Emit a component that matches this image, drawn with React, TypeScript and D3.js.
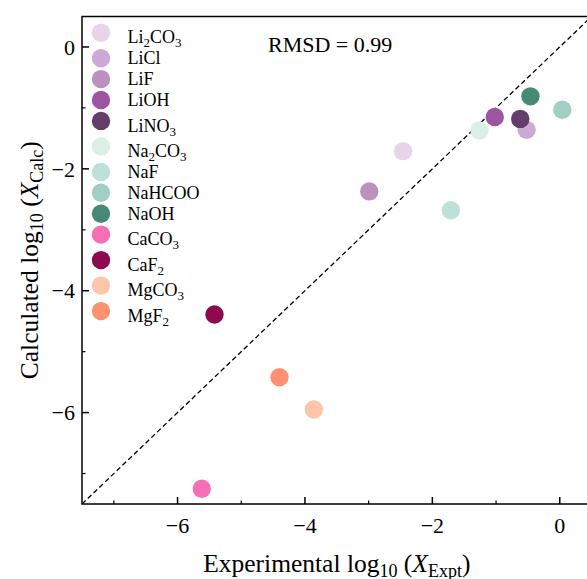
import React from "react";
import * as d3 from "d3";

const compounds = ["Li2CO3", "LiCl", "LiF", "LiOH", "LiNO3", "Na2CO3", "NaF", "NaHCOO", "NaOH", "CaCO3", "CaF2", "MgCO3", "MgF2"];
const labelParts: [string, boolean][][] = [
  [["Li", false], ["2", true], ["CO", false], ["3", true]],
  [["LiCl", false]],
  [["LiF", false]],
  [["LiOH", false]],
  [["LiNO", false], ["3", true]],
  [["Na", false], ["2", true], ["CO", false], ["3", true]],
  [["NaF", false]],
  [["NaHCOO", false]],
  [["NaOH", false]],
  [["CaCO", false], ["3", true]],
  [["CaF", false], ["2", true]],
  [["MgCO", false], ["3", true]],
  [["MgF", false], ["2", true]],
];
const expt = [-2.46, -0.52, -2.99, -1.02, -0.62, -1.26, -1.71, 0.04, -0.46, -5.62, -5.42, -3.86, -4.40];
const calc = [-1.71, -1.36, -2.37, -1.15, -1.18, -1.37, -2.68, -1.03, -0.81, -7.25, -4.39, -5.95, -5.42];
const colors = ["#e7d4e8", "#cca9d6", "#bb92bf", "#9b55a3", "#633e6a", "#dcefe6", "#bde0d8", "#a2cfc4", "#468a76", "#f46fb6", "#8e0a4e", "#fdc5aa", "#fc9272"];
const majorTicks = [-6, -4, -2, 0];
const minorTicks = [-7, -5, -3, -1];
const rmsdLabel = "RMSD = 0.99";

const W = 587, H = 579;
const FONT = "'Liberation Serif', 'Times New Roman', serif";

export default function App() {
  const left = 82, right = 591.6, top = 16.5, bottom = 504;
  const x = d3.scaleLinear().domain([-7.5, 0.5]).range([left, right]);
  const y = d3.scaleLinear().domain([-7.5, 0.5]).range([bottom, top]);
  const fmt = (v: number) => (v < 0 ? "\u2212" + Math.abs(v) : String(v));

  const hasSub = labelParts.map((p) => p.some((s) => s[1]));
  const centers: number[] = [];
  let c = 32.7;
  hasSub.forEach((s) => {
    centers.push(c);
    c += 20.9 + (s ? 4.6 : 0);
  });

  const diag = d3.line<number>().x((d) => x(d)).y((d) => y(d));

  return (
    <svg width={W} height={H} style={{ position: "absolute", left: 0, top: 0, background: "#fff" }} fontFamily={FONT}>
      <defs>
        <clipPath id="plotclip">
          <rect x={left} y={top} width={right - left} height={bottom - top} />
        </clipPath>
      </defs>
      <rect x={0} y={0} width={W} height={H} fill="#fff" />
      <path d={diag([-7.5, 0.5]) || ""} stroke="#000" strokeWidth={1.3} strokeDasharray="5,3" fill="none" clipPath="url(#plotclip)" />
      <g clipPath="url(#plotclip)">
        {compounds.map((name, i) => (
          <circle key={name} cx={x(expt[i])} cy={y(calc[i])} r={9.2} fill={colors[i]} />
        ))}
      </g>
      <rect x={left} y={top} width={right - left} height={bottom - top} fill="none" stroke="#000" strokeWidth={1.5} />
      {majorTicks.map((t) => (
        <g key={"xm" + t}>
          <line x1={x(t)} x2={x(t)} y1={bottom} y2={bottom - 7} stroke="#000" strokeWidth={1.5} />
          <text x={x(t)} y={533} textAnchor="middle" fontSize={22}>{fmt(t)}</text>
        </g>
      ))}
      {minorTicks.map((t) => (
        <line key={"xn" + t} x1={x(t)} x2={x(t)} y1={bottom} y2={bottom - 3.5} stroke="#000" strokeWidth={1.2} />
      ))}
      {majorTicks.map((t) => (
        <g key={"ym" + t}>
          <line x1={left} x2={left + 7} y1={y(t)} y2={y(t)} stroke="#000" strokeWidth={1.5} />
          <text x={75} y={y(t)} dy="0.35em" textAnchor="end" fontSize={22}>{fmt(t)}</text>
        </g>
      ))}
      {minorTicks.map((t) => (
        <line key={"yn" + t} x1={left} x2={left + 3.5} y1={y(t)} y2={y(t)} stroke="#000" strokeWidth={1.2} />
      ))}
      <text x={(left + right) / 2} y={572} textAnchor="middle" fontSize={25.5}>
        Experimental log<tspan fontSize={18} dy={5}>10</tspan>
        <tspan dy={-5}> (</tspan>
        <tspan fontStyle="italic">X</tspan>
        <tspan fontSize={18} dy={5}>Expt</tspan>
        <tspan dy={-5}>)</tspan>
      </text>
      <text transform={`translate(38,${(top + bottom) / 2}) rotate(-90)`} textAnchor="middle" fontSize={25.5}>
        Calculated log<tspan fontSize={18} dy={5}>10</tspan>
        <tspan dy={-5}> (</tspan>
        <tspan fontStyle="italic">X</tspan>
        <tspan fontSize={18} dy={5}>Calc</tspan>
        <tspan dy={-5}>)</tspan>
      </text>
      <text x={268} y={52} fontSize={22}>{rmsdLabel}</text>
      {compounds.map((name, i) => (
        <g key={"lg" + name}>
          <circle cx={101} cy={centers[i]} r={9.2} fill={colors[i]} />
          <text x={127.5} y={centers[i] + 6 + (hasSub[i] ? 4.6 : 0)} fontSize={18}>
            {labelParts[i].map((p, j) =>
              p[1] ? (
                <tspan key={j} fontSize={13} dy={4}>{p[0]}</tspan>
              ) : (
                <tspan key={j} dy={j > 0 && labelParts[i][j - 1][1] ? -4 : 0}>{p[0]}</tspan>
              )
            )}
          </text>
        </g>
      ))}
    </svg>
  );
}
